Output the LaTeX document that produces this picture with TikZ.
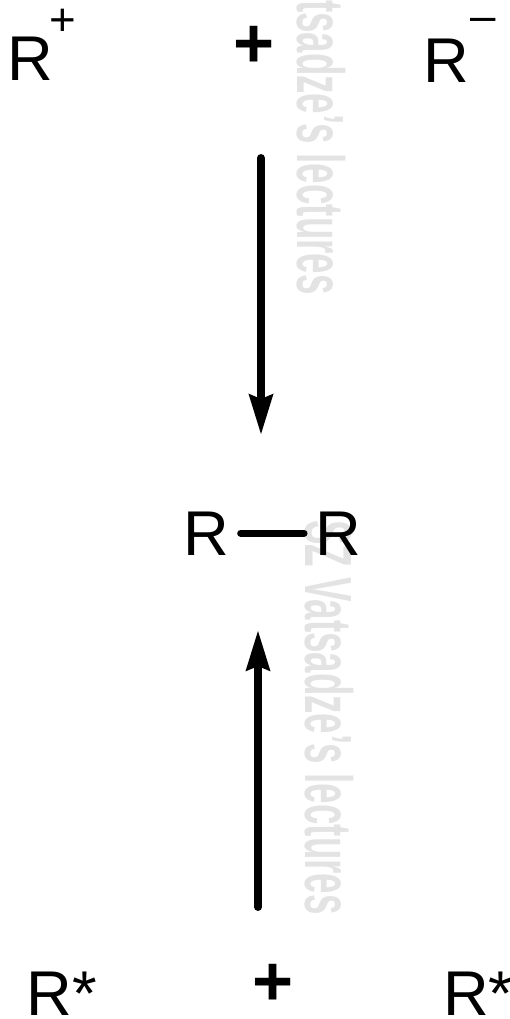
\documentclass[tikz,border=0pt]{standalone}
\usepackage{fontspec}
\setmainfont{Liberation Sans}
\usetikzlibrary{arrows.meta}

\begin{document}
\begin{tikzpicture}[
  x=0.02cm, y=-0.02cm,
  every node/.style={inner sep=0pt, outer sep=0pt},
  big/.style={font=\fontsize{36}{40}\selectfont, anchor=base west},
  plus/.style={font=\fontsize{40}{44}\selectfont\bfseries},
  sup/.style={font=\fontsize{26}{28}\selectfont},
  wmark/.style={rotate=-90, anchor=base west, text=gray!22, font=\fontsize{38}{40}\selectfont\bfseries},
  arr/.style={line width=4.5pt, line cap=round, -{Stealth[length=0.8cm, width=0.46cm, inset=0.08cm]}},
  bond/.style={line width=4pt, line cap=round}
]
\useasboundingbox (0,0) rectangle (510,1019);

% watermark
\node[wmark] (wm1) at (297,-100) {\scalebox{0.55}[1]{SZ Vatsadze's lectures}};
\node[wmark] (wm2) at (305,520)  {\scalebox{0.55}[1]{SZ Vatsadze's lectures}};

% ions
\node[big] (rp) at (8,80) {R};
\node[sup] (rpsup) at (63,22) {+};
\node[plus] (plustop) at (254,47) {+};
\node[big] (rm) at (423,82) {R};
\node[sup] (rmsup) at (483,25) {\textendash};

% product
\node[big] (rl) at (183,555) {R};
\node[big] (rr) at (315,555) {R};
\draw[bond, shorten <=0.24cm, shorten >=0.22cm] (rl.east) -- (rr.west);

% radicals
\node[big] (rsl) at (27,1015) {R*};
\node[plus] (plusbot) at (273,985) {+};
\node[big] (rsr) at (443,1015) {R*};

% arrows
\coordinate (a1s) at (261,158);
\coordinate (a1e) at (261,435);
\coordinate (a2s) at (258,907);
\coordinate (a2e) at (258,630);
\draw[arr] (a1s) -- (a1e);
\draw[arr] (a2s) -- (a2e);
\end{tikzpicture}
\end{document}
